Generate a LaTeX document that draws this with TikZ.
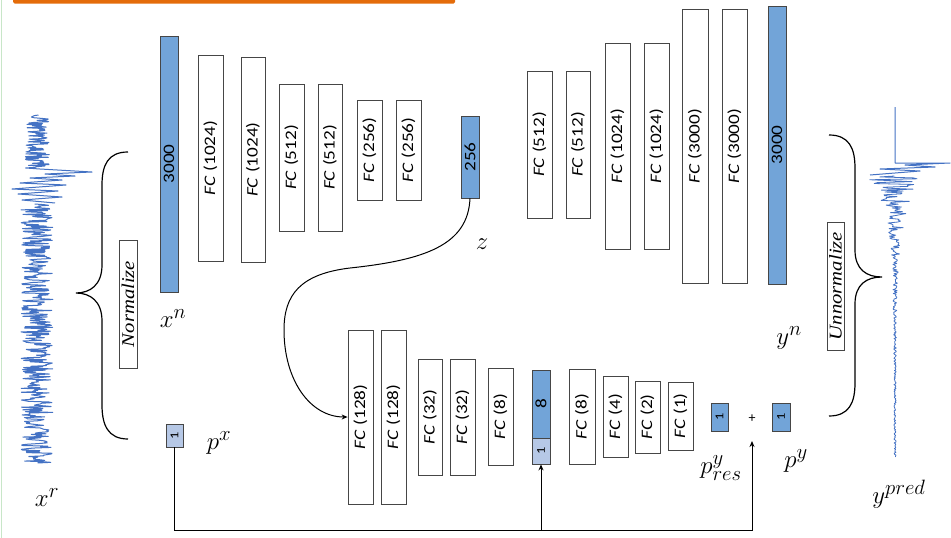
\documentclass[tikz,border=0pt]{standalone}
\usepackage{fontspec}
\setmainfont{Carlito}
\newfontfamily\boxfont[FakeStretch=1.2]{Carlito}
\newfontfamily\serifit[FakeStretch=1.15]{Liberation Serif}
\usetikzlibrary{arrows.meta}
\definecolor{blueF}{RGB}{114,164,216}
\definecolor{lightF}{RGB}{182,200,230}
\definecolor{edgec}{RGB}{70,70,70}
\definecolor{orangeT}{RGB}{228,108,10}
\definecolor{sigc}{RGB}{68,114,196}
\definecolor{slideg}{RGB}{200,230,200}
\newcommand\lay[7]{\node[#6, minimum width={#4-#2}, minimum height={#5-#3}] (#1) at ({(#2+#4)/2},{(#3+#5)/2}) {\rotatebox{90}{#7}};}
\newcommand\fc[1]{\textit{FC}\hspace{0.3em}(#1)}
\tikzset{
  layer/.style={draw=edgec, line width=0.8pt, fill=white, inner sep=0pt, font=\boxfont\fontsize{16}{18}\selectfont},
  bluebox/.style={layer, fill=blueF},
  lightbox/.style={layer, fill=lightF},
  smallbox/.style={font=\boxfont\fontsize{12}{14}\selectfont},
  textbox/.style={draw=edgec, line width=0.8pt, fill=white, inner sep=0pt, font=\serifit\itshape\fontsize{18}{20}\selectfont},
  lab/.style={inner sep=0pt, font=\fontsize{31}{34}\selectfont},
  conn/.style={draw=black, line width=1pt},
  arr/.style={conn, -{Stealth[length=6pt,width=5pt]}},
  sig/.style={draw=sigc, line width=1pt, line join=round},
  brace/.style={draw=black, line width=1.2pt}
}
\begin{document}
\begin{tikzpicture}[x=1pt,y=-1pt]
\useasboundingbox (0,0) rectangle (951,538);
\fill[white] (0,0) rectangle (951,538);
\draw[slideg, line width=0.8pt] (1,0) -- (1,538);
\fill[orangeT, rounded corners=1.5pt] (13,-4) rectangle (455,3.5);

% encoder
\lay{in}{160}{36}{178}{292}{bluebox}{3000}
\lay{e1}{198}{55}{223}{261}{layer}{\fc{1024}}
\lay{e2}{241}{57}{265}{262}{layer}{\fc{1024}}
\lay{e3}{279}{84}{304}{231}{layer}{\fc{512}}
\lay{e4}{318}{84}{342}{231}{layer}{\fc{512}}
\lay{e5}{357}{100}{382}{200}{layer}{\fc{256}}
\lay{e6}{396}{100}{421}{200}{layer}{\fc{256}}
\lay{zc}{461}{116}{479}{198}{bluebox}{256}

% decoder
\lay{d1}{527}{71}{552}{218}{layer}{\fc{512}}
\lay{d2}{566}{71}{590}{218}{layer}{\fc{512}}
\lay{d3}{605}{43}{630}{249}{layer}{\fc{1024}}
\lay{d4}{644}{43}{669}{249}{layer}{\fc{1024}}
\lay{d5}{682}{9}{708}{283}{layer}{\fc{3000}}
\lay{d6}{722}{9}{747}{283}{layer}{\fc{3000}}
\lay{out}{768}{6}{786}{284}{bluebox}{3000}

% p branch
\lay{b1}{348}{330}{373}{504}{layer}{\fc{128}}
\lay{b2}{381}{330}{406}{504}{layer}{\fc{128}}
\lay{b3}{418}{359}{442}{475}{layer}{\fc{32}}
\lay{b4}{450}{359}{475}{475}{layer}{\fc{32}}
\lay{b5}{488}{368}{513}{465}{layer}{\fc{8}}
\lay{eight}{532}{370}{550}{438}{bluebox}{8}
\lay{one}{532}{438}{550}{464}{lightbox,smallbox}{1}
\lay{c1}{569}{369}{595}{464}{layer}{\fc{8}}
\lay{c2}{603}{376}{628}{457}{layer}{\fc{4}}
\lay{c3}{635}{381}{660}{453}{layer}{\fc{2}}
\lay{c4}{668}{382}{693}{450}{layer}{\fc{1}}
\lay{pres}{711}{403}{728}{431}{bluebox,smallbox}{1}
\lay{py}{772}{403}{790}{431}{bluebox,smallbox}{1}
\lay{px}{166}{424}{183}{447}{lightbox,smallbox}{1}
\node[inner sep=0pt, font=\fontsize{14}{16}\selectfont] (plus) at (752,419) {+};
\coordinate (plusin) at (752,441);

\lay{norm}{119}{240}{137}{368}{textbox}{Normalize}
\lay{unnorm}{827}{222}{844}{350}{textbox}{Unnormalize}

% labels
\node[lab] (lxn) at (173,319) {$x^n$};
\node[lab] (lpx) at (219,443) {$p^x$};
\node[lab] (lxr) at (47,498) {$x^r$};
\node[lab] (lyn) at (789,338) {$y^n$};
\node[lab] (lpres) at (721,468) {$p^y_{res}$};
\node[lab] (lpy) at (796,461) {$p^y$};
\node[lab] (lyp) at (899,494) {$y^{pred}$};
\node[lab, font=\fontsize{27}{30}\selectfont] (lz) at (482,244) {$z$};

% connectors
\coordinate (br) at (752,530);
\draw[arr] (px.south) |- (br) -- (plusin);
\draw[arr] (one.south |- br) -- (one.south);
\draw[arr] (zc.south) .. controls (468,245) and (425,260) .. (350,268)
  .. controls (300,274) and (284,295) .. (284,330)
  .. controls (284,380) and (310,417) .. (b1.west);

% braces
\draw[brace] (128,152) .. controls (108,152) and (102,165) .. (102,185) -- (102,265)
  .. controls (102,285) and (90,293) .. (76,293)
  .. controls (90,293) and (102,301) .. (102,321) -- (102,405)
  .. controls (102,425) and (108,439) .. (128,439);
\draw[brace] (829,135) .. controls (849,135) and (855,148) .. (855,168) -- (855,250)
  .. controls (855,270) and (867,277) .. (882,277)
  .. controls (867,277) and (855,284) .. (855,304) -- (855,383)
  .. controls (855,403) and (849,416) .. (829,416);

% signal x^r
\pgfmathsetseed{11}
\draw[sig] plot[domain=115:168, samples=80, variable=\t] ({38+13*rand},\t)
  -- (40,169) -- (92,172) -- (45,174) -- (75,176) -- (30,178) -- (62,180)
  -- (20,183) -- (66,185) -- (12,189) -- (58,191) -- (18,194) -- (62,197)
  -- (22,200) -- (55,203);
\draw[sig] plot[domain=204:463, samples=400, variable=\t] ({37+16*rand},\t);

% signal y^pred
\draw[sig] (895,107) -- (895,163) -- (950,163) -- (905,165) -- (935,167)
  -- (880,169) -- (920,171) -- (870,175);
\draw[sig, line width=0.8pt] plot[domain=176:457, samples=300, variable=\t]
  ({895+(28*exp(-(\t-176)/38)+1)*rand},\t);
\end{tikzpicture}
\end{document}
